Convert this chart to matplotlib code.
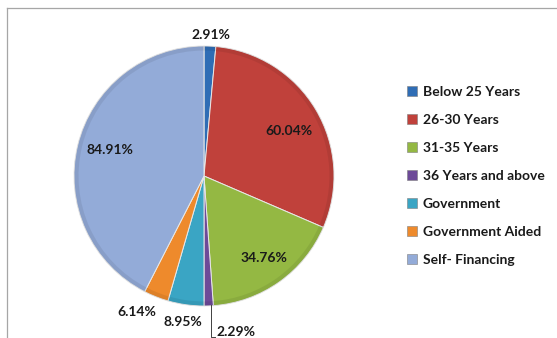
import matplotlib
matplotlib.use("Agg")
import matplotlib.pyplot as plt
from matplotlib.lines import Line2D
from matplotlib.patches import Patch, Wedge
import numpy as np

categories = ["Below 25 Years", "26-30 Years", "31-35 Years", "36 Years and above",
              "Government", "Government Aided", "Self- Financing"]
values = [2.91, 60.04, 34.76, 2.29, 8.95, 6.14, 84.91]
labels = ["2.91%", "60.04%", "34.76%", "2.29%", "8.95%", "6.14%", "84.91%"]
colors = ["#2F6DB5", "#C0413B", "#94B843", "#6D4A98", "#3AA5C4", "#EE8A2C", "#93ABD8"]

W, H = 557, 338
fig = plt.figure(figsize=(W / 100, H / 100), dpi=100)
fig.patch.set_facecolor("white")

# border lines (top and left)
fig.add_artist(Line2D([7 / W, 1], [1 - 8 / H, 1 - 8 / H], color="#a6a6a6", lw=0.9, transform=fig.transFigure))
fig.add_artist(Line2D([7 / W, 7 / W], [0, 1 - 8 / H], color="#a6a6a6", lw=0.9, transform=fig.transFigure))

cx, cy, R = 204, 176, 130
ax = fig.add_axes([(cx - R) / W, (H - cy - R) / H, 2 * R / W, 2 * R / H])
wedges, _ = ax.pie(values, colors=colors, startangle=90, counterclock=False,
                   radius=1, wedgeprops=dict(edgecolor="#e8e8e8", linewidth=0.7))
ax.set_xlim(-1, 1)
ax.set_ylim(-1, 1)
ax.axis("off")

# subtle bevel shading on the rim
for w in wedges:
    ring = Wedge((0, 0), 1.0, w.theta1, w.theta2, width=0.035,
                 facecolor="black", alpha=0.07, edgecolor="none")
    ax.add_patch(ring)

label_r = [1.085, 0.74, 0.78, None, 1.135, 1.166, 0.75]
label_shift = [0, -3, 1, 0, 0, -4.5, -2]
font = dict(family=["Lato", "DejaVu Sans"], fontsize=10, fontweight="bold", color="#1a1a1a")
for i, w in enumerate(wedges):
    mid = 0.5 * (w.theta1 + w.theta2)
    if label_r[i] is None:
        # leader line label
        x0 = np.cos(np.radians(w.theta2 - 1.2))
        ax.plot([x0, x0, x0 + 0.03], [-0.99, -1.235, -1.235], color="#404040", lw=0.7, clip_on=False)
        ax.text(x0 + 0.045, -1.2, labels[i], ha="left", va="center", **font)
        continue
    a = np.radians(mid + label_shift[i])
    ax.text(label_r[i] * np.cos(a), label_r[i] * np.sin(a), labels[i],
            ha="center", va="center", **font)

handles = [Patch(facecolor=c, edgecolor="#7f7f7f", linewidth=0.4) for c in colors]
fig.legend(handles, categories, loc="upper left", bbox_to_anchor=(407 / W, 1 - 86 / H),
           frameon=False, handlelength=0.72, handleheight=0.72, handletextpad=0.4,
           labelspacing=1.15, borderpad=0, borderaxespad=0,
           prop=dict(family=["Lato", "DejaVu Sans"], size=10, weight="bold"),
           labelcolor="#1a1a1a")

fig.savefig("out.png", dpi=100, facecolor="white")
